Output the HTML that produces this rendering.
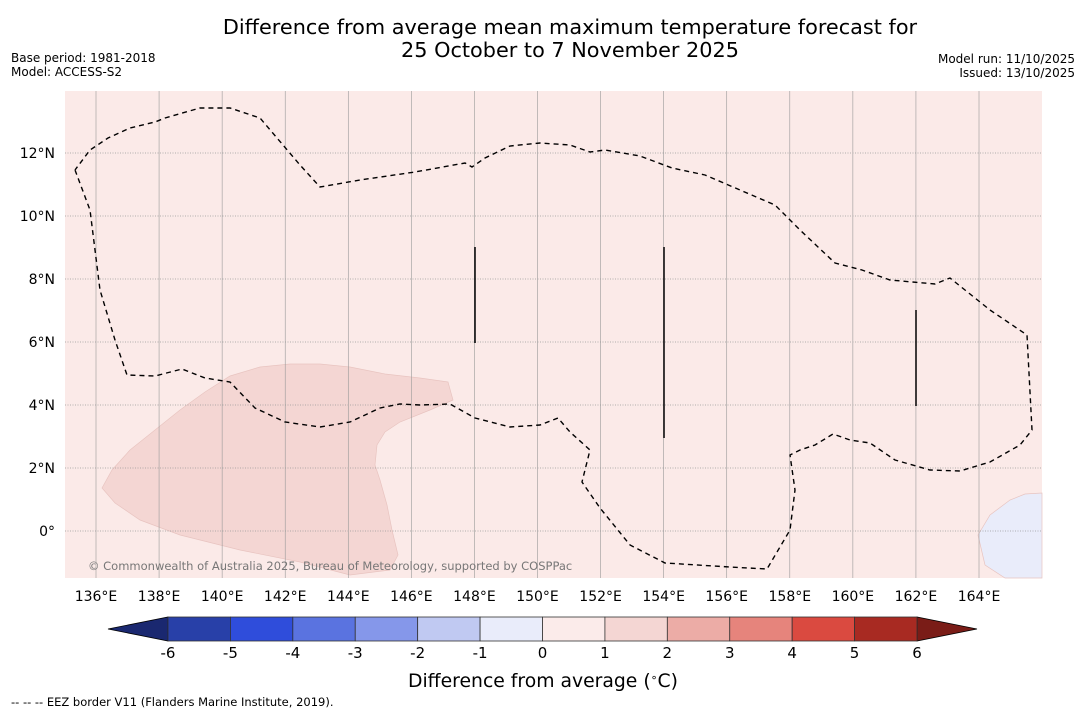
<!DOCTYPE html>
<html><head><meta charset="utf-8"><style>
body{margin:0;background:#fff;font-family:"Liberation Sans","DejaVu Sans",sans-serif}
svg text{font-family:"DejaVu Sans","Liberation Sans",sans-serif}
</style></head><body>
<svg id="chart" width="1085" height="713">
<text x="570" y="34" font-size="20.8" text-anchor="middle">Difference from average mean maximum temperature forecast for</text>
<text x="570" y="57" font-size="20.8" text-anchor="middle">25 October to 7 November 2025</text>
<text x="11" y="62" font-size="12">Base period: 1981-2018</text>
<text x="11" y="76" font-size="12">Model: ACCESS-S2</text>
<text x="1075" y="63" font-size="12" text-anchor="end">Model run: 11/10/2025</text>
<text x="1075" y="77" font-size="12" text-anchor="end">Issued: 13/10/2025</text>
<g id="map"></g>
<g id="cbar"></g>
<text x="543" y="687" font-size="18.8" text-anchor="middle">Difference from average (<tspan baseline-shift="super" font-size="11">∘</tspan>C)</text>
<text x="11" y="706" font-size="11.5">--  --  -- EEZ border V11 (Flanders Marine Institute, 2019).</text>
</svg>
<script>
const lonTicks=[136,138,140,142,144,146,148,150,152,154,156,158,160,162,164];
const latTicks=[0,2,4,6,8,10,12];
const levels=[-6,-5,-4,-3,-2,-1,0,1,2,3,4,5,6];
const levelColors=["#2840a8","#2f4ddb","#5a73e0","#8597ea","#c0c9f2","#e9ecfa","#fbebea","#f4d6d3","#ecaca6","#e6847c","#da4a40","#a82a22"];
const NS="http://www.w3.org/2000/svg";
const X0=65,X1=1042,Y0=91,Y1=578;
function xs(lon){return 96+(lon-136)*31.536;}
function ys(lat){return 531-lat*31.5;}
function mk(tag,attrs,parent){const e=document.createElementNS(NS,tag);for(const k in attrs)e.setAttribute(k,attrs[k]);parent.appendChild(e);return e;}
const map=document.getElementById('map');
let e=mk('rect',{x:X0,y:Y0,width:X1-X0,height:Y1-Y0,fill:'#fbeae8'},map);


e=mk('polygon',{points:"102,488 112,470 130,450 155,430 180,410 205,392 230,376 260,367 290,364 320,364 350,367 385,374 420,378 448,382 453,400 430,410 400,422 385,432 377,445 375,465 380,480 387,505 392,530 398,555 390,570 350,575 300,562 240,550 180,535 140,520 115,503",fill:'#f4d6d3',stroke:'#e8c4c0','stroke-width':0.7},map);


e=mk('polygon',{points:"978,535 990,515 1010,500 1025,494 1042,493 1042,578 1005,578 985,565",fill:'#e9ecfa',stroke:'#e8c4c0','stroke-width':0.7},map);


lonTicks.forEach(l=>{
 let g=mk('line',{x1:xs(l),x2:xs(l),y1:Y0,y2:Y1,stroke:'#999','stroke-width':0.6},map);
 
 
 let t=mk('text',{x:xs(l),y:601,'font-size':14,'text-anchor':'middle'},map);t.textContent=l+'°E';
 
 
});
latTicks.forEach(l=>{
 let g=mk('line',{x1:X0,x2:X1,y1:ys(l),y2:ys(l),stroke:'#999','stroke-width':0.8,'stroke-dasharray':'1,1.5'},map);
 
 
 let t=mk('text',{x:55,y:ys(l)+5,'font-size':14,'text-anchor':'end'},map);t.textContent=l+'°'+(l>0?'N':'');
 
 
});
e=mk('polyline',{points:"75,170 90,210 95,250 100,290 115,340 127,375 155,376 182,369 205,378 230,382 255,408 285,422 320,427 350,422 380,408 400,404 420,405 450,404 475,418 510,427 540,425 558,418 570,432 590,450 582,482 600,508 630,545 665,563 730,567 767,569 790,530 795,490 790,455 800,450 815,445 833,434 850,440 870,443 895,460 930,470 960,471 990,462 1020,445 1032,430 1027,335 990,310 950,278 935,284 890,280 862,270 835,263 800,230 775,205 740,190 705,175 672,168 640,156 605,150 590,152 570,145 540,143 510,146 485,158 472,167 465,163 415,172 360,180 320,187 300,165 260,118 230,108 200,108 165,118 155,122 130,128 108,138 90,150 75,170",fill:'none',stroke:'#000','stroke-width':1.4,'stroke-dasharray':'5,4'},map);


[[475,247,343],[664,247,438],[916,310,406]].forEach(v=>{
 let l=mk('line',{x1:v[0],x2:v[0],y1:v[1],y2:v[2],stroke:'#000','stroke-width':1.5},map);
 
 
});
e=mk('text',{x:88,y:570,'font-size':11.5,fill:'#777'},map);e.textContent='© Commonwealth of Australia 2025, Bureau of Meteorology, supported by COSPPac';


const cb=document.getElementById('cbar');
const cx0=168,cx1=917,cy0=617,cy1=641,cw=(cx1-cx0)/(levels.length-1);
function cxs(v){return cx0+(v-levels[0])*cw;}
e=mk('polygon',{points:`108,629 ${cx0},${cy0} ${cx0},${cy1}`,fill:'#1a2870',stroke:'#000','stroke-width':0.8},cb);


e=mk('polygon',{points:`977,629 ${cx1},${cy0} ${cx1},${cy1}`,fill:'#7a1c17',stroke:'#000','stroke-width':0.8},cb);


levelColors.forEach((c,i)=>{
 let r=mk('rect',{x:cxs(levels[i]),y:cy0,width:cxs(levels[i+1])-cxs(levels[i]),height:cy1-cy0,fill:c,stroke:'#333','stroke-width':0.8},cb);
 
 
});
levels.forEach(v=>{
 let t=mk('text',{x:cxs(v),y:658,'font-size':15,'text-anchor':'middle'},cb);t.textContent=v;
 
 
});
</script>
</body></html>
